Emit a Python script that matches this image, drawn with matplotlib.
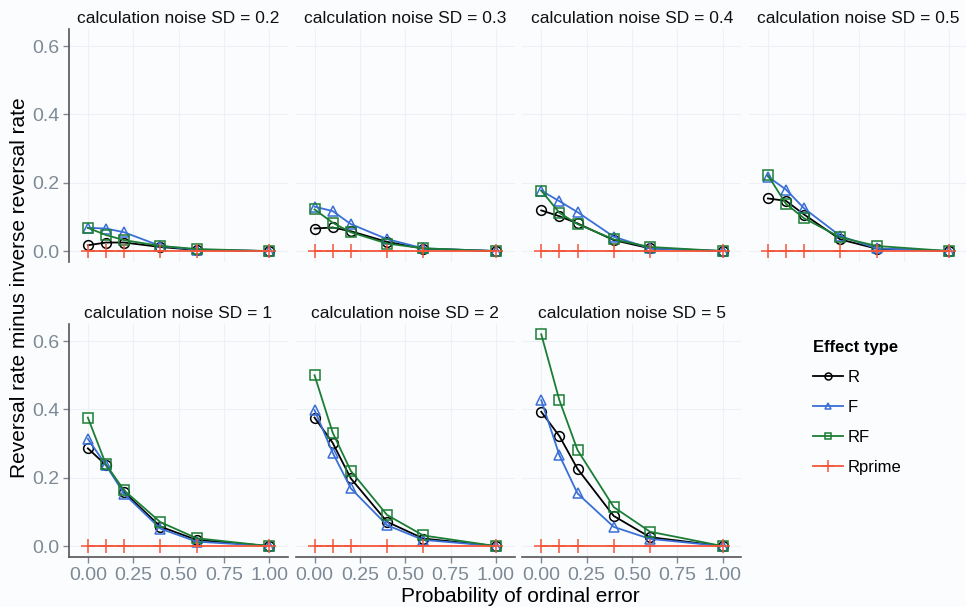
import numpy as np
import matplotlib.pyplot as plt
from matplotlib.lines import Line2D

plt.rcParams['font.family'] = ['Liberation Sans', 'DejaVu Sans']

# data
p_err = [0.0, 0.1, 0.2, 0.4, 0.6, 1.0]
noise_sd = ['0.2', '0.3', '0.4', '0.5', '1', '2', '5']

r_vals = [
    [0.017, 0.025, 0.025, 0.012, 0.003, 0.0],
    [0.066, 0.069, 0.058, 0.027, 0.007, 0.0],
    [0.119, 0.102, 0.081, 0.032, 0.008, 0.0],
    [0.154, 0.147, 0.107, 0.034, 0.007, 0.0],
    [0.286, 0.237, 0.158, 0.057, 0.018, 0.0],
    [0.376, 0.302, 0.198, 0.071, 0.022, 0.0],
    [0.393, 0.322, 0.226, 0.088, 0.026, 0.0],
]
f_vals = [
    [0.068, 0.066, 0.055, 0.015, 0.004, 0.0],
    [0.130, 0.117, 0.079, 0.035, 0.008, 0.0],
    [0.177, 0.146, 0.114, 0.042, 0.008, 0.0],
    [0.218, 0.180, 0.125, 0.044, 0.008, 0.0],
    [0.314, 0.237, 0.153, 0.051, 0.013, 0.0],
    [0.398, 0.273, 0.169, 0.061, 0.018, 0.0],
    [0.427, 0.266, 0.154, 0.056, 0.021, 0.0],
]
rf_vals = [
    [0.068, 0.047, 0.032, 0.015, 0.006, 0.0],
    [0.122, 0.083, 0.055, 0.022, 0.008, 0.0],
    [0.177, 0.112, 0.079, 0.034, 0.012, 0.0],
    [0.222, 0.138, 0.096, 0.040, 0.015, 0.0],
    [0.376, 0.239, 0.163, 0.070, 0.023, 0.0],
    [0.500, 0.332, 0.220, 0.091, 0.031, 0.0],
    [0.620, 0.427, 0.281, 0.114, 0.042, 0.0],
]
rprime_vals = [[0.0] * 6 for _ in noise_sd]

series = [
    ('R', r_vals, 'black', 'o'),
    ('F', f_vals, '#3a6fd6', '^'),
    ('RF', rf_vals, '#1c7d35', 's'),
    ('Rprime', rprime_vals, '#f4553a', '+'),
]

W, H = 966, 607
fig = plt.figure(figsize=(W / 100, H / 100), dpi=100)
bg = '#fbfcfe'
fig.patch.set_facecolor(bg)

tick_col = '#7d8a96'
spine_col = '#555555'
pw, ph = 219, 233
lefts = [69, 295.7, 522.4, 749]
tops = [29, 324]

for k, sd in enumerate(noise_sd):
    row, col = divmod(k, 4)
    x0 = lefts[col]
    y0 = tops[row]
    ax = fig.add_axes([x0 / W, 1 - (y0 + ph) / H, pw / W, ph / H])
    ax.set_facecolor(bg)
    for name, vals, c, m in series:
        ax.plot(p_err, vals[k], color=c, lw=1.3, marker=m, markersize=7 if m != '+' else 10,
                markerfacecolor='none', markeredgecolor=c, markeredgewidth=1.1)
    ax.set_xlim(-0.104, 1.104)
    ax.set_ylim(-0.032, 0.65)
    ax.set_xticks([0, 0.25, 0.5, 0.75, 1.0])
    ax.set_yticks([0, 0.2, 0.4, 0.6])
    ax.set_xticklabels(['0.00', '0.25', '0.50', '0.75', '1.00'])
    ax.set_yticklabels(['0.0', '0.2', '0.4', '0.6'])
    ax.grid(True, color='#edf1f6', lw=0.8)
    ax.set_axisbelow(True)
    for s in ax.spines.values():
        s.set_visible(False)
    ax.tick_params(colors=tick_col, labelsize=14, length=4, width=1, pad=3)
    if col == 0:
        ax.spines['left'].set_visible(True)
        ax.spines['left'].set_color(spine_col)
        ax.spines['left'].set_linewidth(1.2)
        ax.tick_params(axis='y', left=True, labelleft=True)
    else:
        ax.tick_params(axis='y', left=False, labelleft=False)
    if row == 1:
        ax.spines['bottom'].set_visible(True)
        ax.spines['bottom'].set_color(spine_col)
        ax.spines['bottom'].set_linewidth(1.2)
        ax.tick_params(axis='x', bottom=True, labelbottom=True)
    else:
        ax.tick_params(axis='x', bottom=False, labelbottom=False)
    ax.set_title('calculation noise SD = ' + sd, fontsize=12.5, color='#111111', pad=4)

fig.text(20 / W, 1 - 288 / H, 'Reversal rate minus inverse reversal rate', rotation=90,
         ha='center', va='center', fontsize=15)
fig.text(520 / W, 1 - 596 / H, 'Probability of ordinal error', ha='center', va='center',
         fontsize=15)

handles = []
for name, vals, c, m in series:
    handles.append(Line2D([], [], color=c, lw=1.3, marker=m, markersize=5 if m != '+' else 9,
                          markerfacecolor='none', markeredgecolor=c, markeredgewidth=1.1))
leg = fig.legend(handles, [s[0] for s in series], loc='upper left',
                 bbox_to_anchor=(798 / W, 1 - 325 / H), frameon=False, title='Effect type',
                 fontsize=12, title_fontproperties={'weight': 'bold', 'size': 12},
                 handlelength=1.8, handletextpad=0.3, labelspacing=0.9)
leg._legend_box.align = 'left'

fig.savefig('out.png', dpi=100, facecolor=bg)
